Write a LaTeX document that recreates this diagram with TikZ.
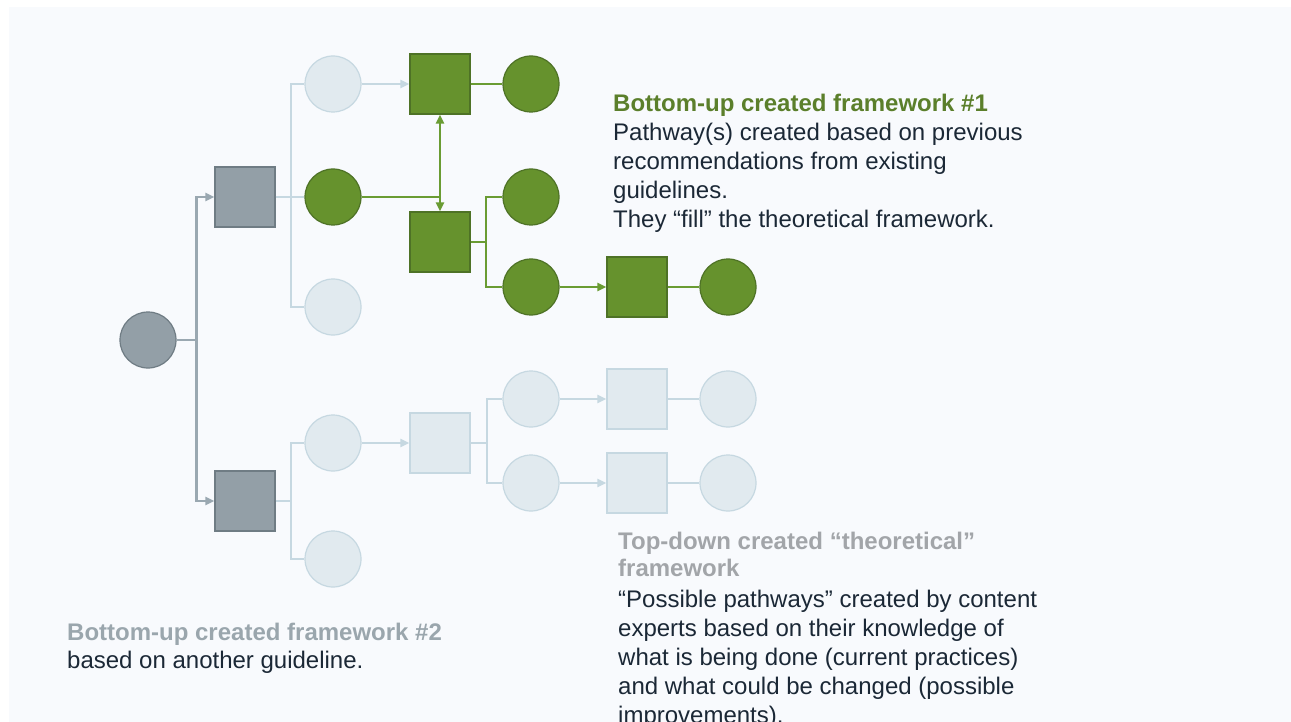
\documentclass[tikz,border=0pt]{standalone}
\usepackage{fontspec}
\setmainfont{Liberation Sans}
\usetikzlibrary{arrows.meta,calc}

\definecolor{panel}{HTML}{F8FAFD}
\definecolor{greyfill}{HTML}{939FA7}
\definecolor{greyline}{HTML}{6F7C84}
\definecolor{greycon}{HTML}{9AA8B1}
\definecolor{palefill}{HTML}{E1EAEF}
\definecolor{paleline}{HTML}{C6D8E1}
\definecolor{greenfill}{HTML}{66922D}
\definecolor{greenline}{HTML}{4E7226}
\definecolor{greencon}{HTML}{6A9C33}
\definecolor{greenhead}{HTML}{5B7F2B}
\definecolor{bodytext}{HTML}{1B2836}
\definecolor{greyhead}{HTML}{A2A5A9}
\definecolor{bluehead}{HTML}{9AA6AD}

\tikzset{
  circ/.style={circle, minimum size=56pt, inner sep=0pt, line width=1.2pt},
  sqr/.style={rectangle, minimum size=60pt, inner sep=0pt, line width=1.2pt},
  greyn/.style={fill=greyfill, draw=greyline},
  palen/.style={fill=palefill, draw=paleline},
  greenn/.style={fill=greenfill, draw=greenline},
  greyc/.style={draw=greycon, line width=2.4pt},
  palec/.style={draw=paleline, line width=2.2pt},
  greenc/.style={draw=greencon, line width=2.2pt},
  tip/.style={-{Triangle[length=9pt,width=8pt]}},
  tips/.style={{Triangle[length=9pt,width=8pt]}-{Triangle[length=9pt,width=8pt]}},
  % multi-line nodes: the base anchor sits on the last line
  body/.style={anchor=base west, inner sep=0pt, align=left, text=bodytext,
    font=\fontsize{24}{29}\selectfont},
  head/.style={anchor=base west, inner sep=0pt, align=left,
    font=\bfseries\fontsize{24}{27}\selectfont},
}

\begin{document}
\begin{tikzpicture}[x=1pt, y=-1pt]
  \useasboundingbox (0,0) rectangle (1291,722);
  \clip (0,0) rectangle (1291,722);
  \fill[white] (0,0) rectangle (1291,722);
  \fill[panel] (9,7) rectangle (1291,722);

  % root and its two branches
  \node[circ, greyn] (root) at (148,340) {};
  \node[sqr, greyn] (sqa) at (245,197) {};
  \node[sqr, greyn] (sqb) at (245,501) {};

  % upper branch: theoretical nodes and the filled pathway
  \node[circ, palen] (pa1) at (333,84) {};
  \node[circ, greenn] (ga1) at (333,197) {};
  \node[circ, palen] (pa2) at (333,307) {};
  \node[sqr, greenn] (gs1) at (440,84) {};
  \node[circ, greenn] (ga2) at (531,84) {};
  \node[sqr, greenn] (gs2) at (440,242) {};
  \node[circ, greenn] (ga3) at (531,197) {};
  \node[circ, greenn] (ga4) at (531,287) {};
  \node[sqr, greenn] (gs3) at (637,287) {};
  \node[circ, greenn] (ga5) at (728,287) {};

  % lower branch: theoretical nodes only
  \node[circ, palen] (pb1) at (333,443) {};
  \node[circ, palen] (pb2) at (333,559) {};
  \node[sqr, palen] (ps1) at (440,443) {};
  \node[circ, palen] (pb3) at (531,399) {};
  \node[circ, palen] (pb4) at (531,483) {};
  \node[sqr, palen] (ps2) at (637,399) {};
  \node[sqr, palen] (ps3) at (637,483) {};
  \node[circ, palen] (pb5) at (728,399) {};
  \node[circ, palen] (pb6) at (728,483) {};

  % root connectors
  \draw[greyc] (root.east) -- ++(20,0) coordinate (jr);
  \draw[greyc, tip] (jr) |- (sqa.west);
  \draw[greyc, tip] (jr) |- (sqb.west);

  % upper square fan-out
  \draw[palec] (sqa.east) -- ++(15,0) coordinate (ja);
  \draw[palec] (ja) |- (pa1.west);
  \draw[palec] (ja) |- (pa2.west);
  \draw[palec] (ja) -- (ga1.west);
  \draw[palec, tip] (pa1.east) -- (gs1.west);

  % green pathway
  \draw[greenc] (gs1.east) -- (ga2.west);
  \draw[greenc] (ga1.east) -- (ga1.east -| gs1.south);
  \draw[greenc, tips] (gs1.south) -- (gs2.north);
  \draw[greenc] (gs2.east) -- ++(15,0) coordinate (jg);
  \draw[greenc] (jg) |- (ga3.west);
  \draw[greenc] (jg) |- (ga4.west);
  \draw[greenc, tip] (ga4.east) -- (gs3.west);
  \draw[greenc] (gs3.east) -- (ga5.west);

  % lower square fan-out
  \draw[palec] (sqb.east) -- ++(15,0) coordinate (jb);
  \draw[palec] (jb) |- (pb1.west);
  \draw[palec] (jb) |- (pb2.west);
  \draw[palec, tip] (pb1.east) -- (ps1.west);
  \draw[palec] (ps1.east) -- ++(16,0) coordinate (jp);
  \draw[palec] (jp) |- (pb3.west);
  \draw[palec] (jp) |- (pb4.west);
  \draw[palec, tip] (pb3.east) -- (ps2.west);
  \draw[palec, tip] (pb4.east) -- (ps3.west);
  \draw[palec] (ps2.east) -- (pb5.west);
  \draw[palec] (ps3.east) -- (pb6.west);

  % captions
  \node[head, text=greenhead] (h1) at (613,112) {Bottom-up created framework \#1};
  \node[body] (b1) at (613,228) {Pathway(s) created based on previous\\
    recommendations from existing\\guidelines.\\
    They “fill” the theoretical framework.};

  \node[head, text=greyhead] (h2) at (618,576) {Top-down created “theoretical”\\framework};
  \node[body] (b2) at (618,723) {“Possible pathways” created by content\\
    experts based on their knowledge of\\
    what is being done (current practices)\\
    and what could be changed (possible\\improvements).};

  \node[head, text=bluehead] (h3) at (67,640) {Bottom-up created framework \#2};
  \node[body] (b3) at (67,668) {based on another guideline.};
\end{tikzpicture}
\end{document}
